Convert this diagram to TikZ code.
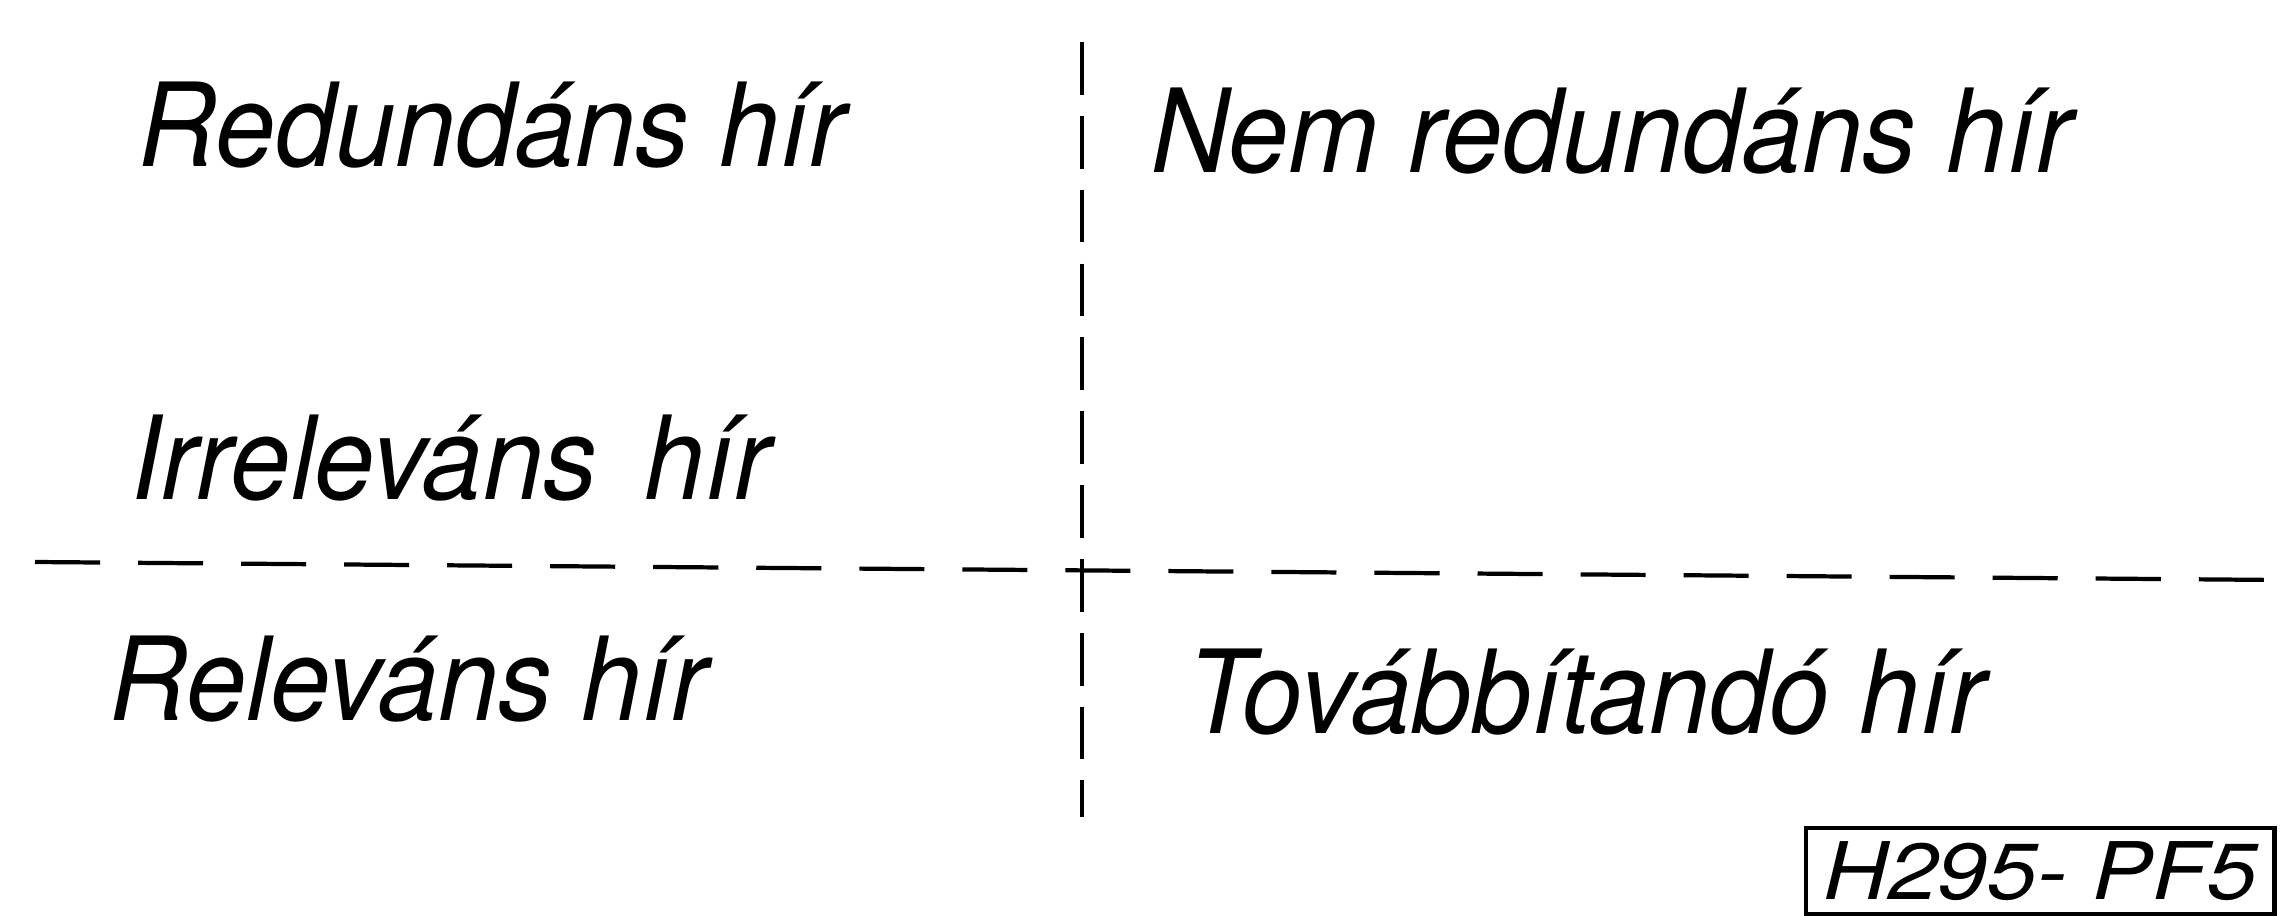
\documentclass[tikz,border=0pt]{standalone}
\usepackage{fontspec}
\setmainfont{TeX Gyre Heros}[ItalicFeatures={FakeStretch=0.93}]
\newfontfamily\codefont{TeX Gyre Heros}[ItalicFeatures={FakeStretch=1.13}]
\begin{document}
\begin{tikzpicture}[x=0.01cm,y=-0.01cm,
  lbl/.style={anchor=base west,inner sep=0pt,font=\fontsize{33}{36}\selectfont\itshape},
  hdash/.style={line width=1.2pt,dash pattern=on 18.5pt off 10.8pt},
  vdash/.style={line width=1.2pt,dash pattern=on 15pt off 6pt},
  codebox/.style={draw,line width=1.2pt,anchor=north west,minimum width=4.68cm,minimum height=0.86cm,inner sep=0pt,font=\codefont\fontsize{22.6}{24}\selectfont\itshape}]
\useasboundingbox (0,0) rectangle (2280,916);
\coordinate (vt) at (1082,42);
\coordinate (vb) at (1082,817);
\coordinate (hl) at (35,562);
\coordinate (hr) at (2280,580);
\draw[vdash] (vt) -- (vb);
\draw[hdash] (hl) -- (hr);
\node[lbl] (red) at (138,167) {Redundáns hír};
\node[lbl] (nemred) at (1151,173) {Nem redundáns hír};
\node[lbl] (irr) at (131,500) {Irreleváns\hspace{0.15em} hír};
\node[lbl] (rel) at (109,720) {Releváns hír};
\node[lbl] (tov) at (1187,733) {Továbbítandó hír};
\node[codebox] (code) at (1804,826) {H295- PF5};
\end{tikzpicture}
\end{document}
